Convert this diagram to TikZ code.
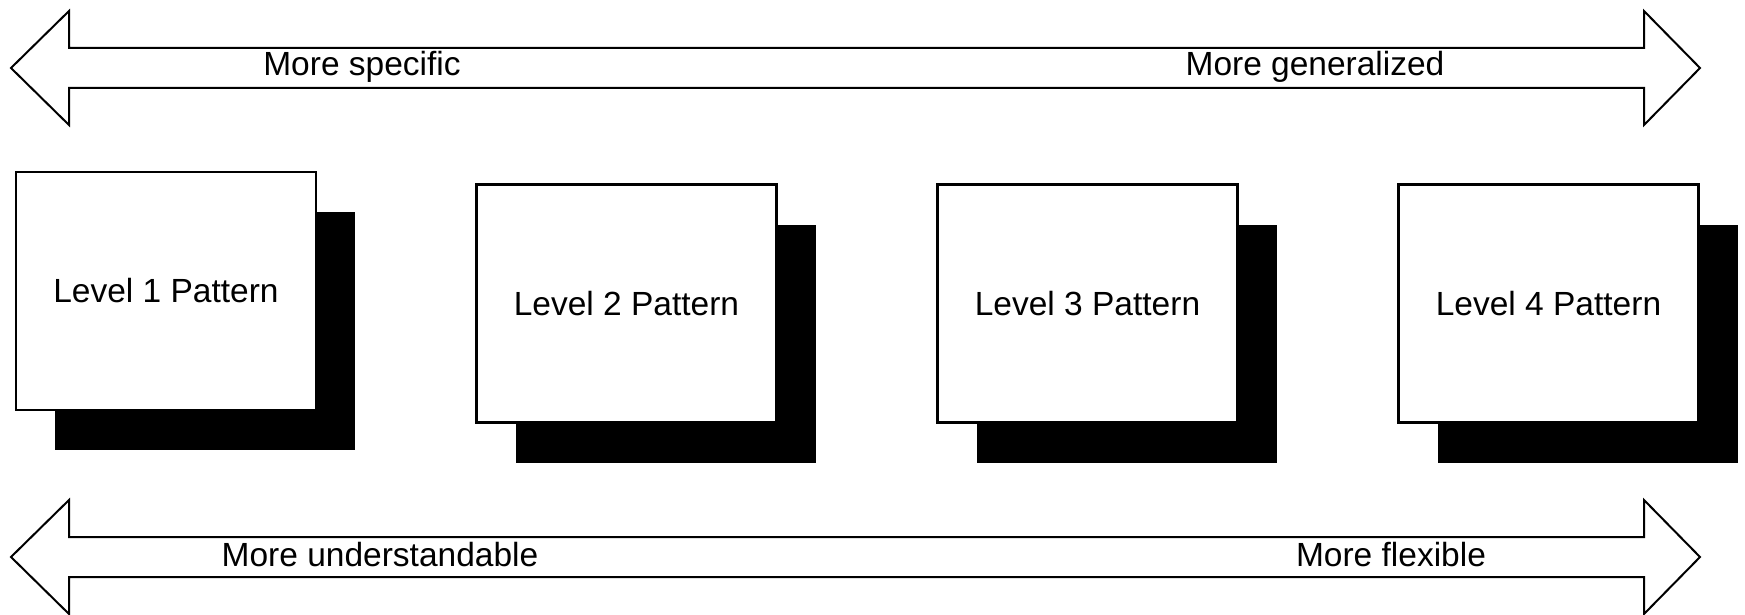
\documentclass[tikz,border=0pt]{standalone}
\usepackage{fontspec}
\setmainfont{Liberation Sans}
\usetikzlibrary{shadows}

\begin{document}
\begin{tikzpicture}[x=0.5pt, y=-0.5pt,
  levelbox/.style={draw=black, line width=1.25pt, fill=white, minimum width=150pt, minimum height=119pt, inner sep=0pt, font=\fontsize{16.75}{20}\selectfont, drop shadow={shadow xshift=19.5pt, shadow yshift=-20pt, fill=black, opacity=1}},
  scalelabel/.style={inner sep=0pt, font=\fontsize{16.75}{20}\selectfont},
  bigarrow/.style={draw=black, line width=1pt, fill=white, line join=miter}
]
\useasboundingbox (0,0) rectangle (1745,615);
% two double-headed scale arrows
\foreach \y in {68,557}
  \draw[bigarrow] (11,\y) -- (69,\y-57) -- (69,\y-20) -- (1644,\y-20) -- (1644,\y-57) -- (1700,\y)
    -- (1644,\y+57) -- (1644,\y+20) -- (69,\y+20) -- (69,\y+57) -- cycle;
\node[scalelabel] (spec) at (362,67) {More specific};
\node[scalelabel] (gen) at (1315,67) {More generalized};
\node[scalelabel] (under) at (380,555) {More understandable};
\node[scalelabel] (flex) at (1391,555) {More flexible};
% pattern levels
\node[levelbox] (lvl1) at (166,291) {Level 1 Pattern};
\node[levelbox] (lvl2) at (626.5,303.5) {Level 2 Pattern};
\node[levelbox] (lvl3) at (1087.5,303.5) {Level 3 Pattern};
\node[levelbox] (lvl4) at (1548.5,303.5) {Level 4 Pattern};
\end{tikzpicture}
\end{document}
